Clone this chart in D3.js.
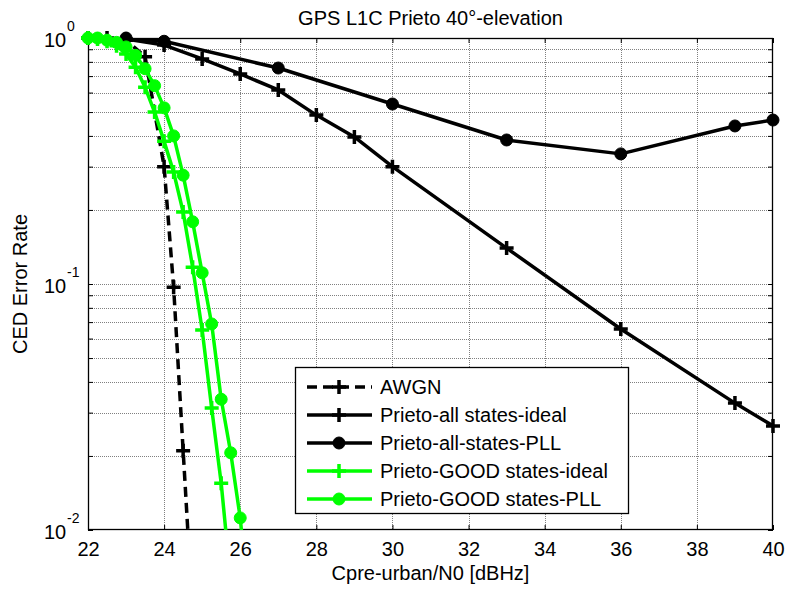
<!DOCTYPE html>
<html><head><meta charset="utf-8">
<script src="https://cdn.jsdelivr.net/npm/d3@7"></script>
<style>
html,body{margin:0;padding:0;background:#fff;}
text{font-family:"Liberation Sans",Arial,sans-serif;fill:#000;}
</style></head>
<body>
<svg id="chart" width="785" height="592"></svg>
<script>
// ---------------- data ----------------
const titleText = "GPS L1C Prieto 40°-elevation";
const xLabelText = "Cpre-urban/N0 [dBHz]";
const yLabelText = "CED Error Rate";
const xTicks = [22, 24, 26, 28, 30, 32, 34, 36, 38, 40];
const yTickExps = [0, -1, -2];

const awgnX = [22, 22.5, 23, 23.5, 24, 24.25, 24.5, 24.75];
const awgnY = [1.0, 1.0, 0.98, 0.84, 0.30, 0.097, 0.021, 0.0046];

const allIdealX = [23, 24, 25, 26, 27, 28, 29, 30, 33, 36, 39, 40];
const allIdealY = [0.99, 0.936, 0.822, 0.714, 0.615, 0.486, 0.396, 0.30, 0.14, 0.0656, 0.0328, 0.0265];

const allPllX = [23, 24, 27, 30, 33, 36, 39, 40];
const allPllY = [1.0, 0.97, 0.755, 0.539, 0.385, 0.338, 0.439, 0.464];

const goodIdealX = [22, 22.25, 22.5, 22.75, 23, 23.25, 23.5, 23.75, 24, 24.25, 24.5, 24.75, 25, 25.25, 25.5, 25.75];
const goodIdealY = [1.0, 0.99, 0.97, 0.93, 0.86, 0.76, 0.63, 0.5, 0.38, 0.285, 0.196, 0.117, 0.065, 0.0313, 0.0155, 0.0062];

const goodPllX = [22, 22.25, 22.5, 22.75, 23, 23.25, 23.5, 23.75, 24, 24.25, 24.5, 24.75, 25, 25.25, 25.5, 25.75, 26, 26.25];
const goodPllY = [1.0, 1.0, 0.98, 0.96, 0.92, 0.85, 0.75, 0.64, 0.52, 0.40, 0.277, 0.179, 0.111, 0.0688, 0.034, 0.0206, 0.0112, 0.0045];

const seriesNames = ["AWGN", "Prieto-all states-ideal", "Prieto-all-states-PLL", "Prieto-GOOD states-ideal", "Prieto-GOOD states-PLL"];
const seriesColors = ["#000000", "#000000", "#000000", "#00ff00", "#00ff00"];
const seriesMarkers = ["plus", "plus", "circle", "plus", "circle"];
const seriesDash = ["10,6", null, null, null, null];

// ---------------- layout ----------------
const L = 88, R = 773, T = 38, B = 530;
const svg = d3.select("#chart");
const x = d3.scaleLinear().domain([22, 40]).range([L, R]);
const y = d3.scaleLog().domain([0.01, 1]).range([B, T]);

const series = [
  {x: awgnX, y: awgnY}, {x: allIdealX, y: allIdealY}, {x: allPllX, y: allPllY},
  {x: goodIdealX, y: goodIdealY}, {x: goodPllX, y: goodPllY}
].map((s, i) => ({
  name: seriesNames[i], color: seriesColors[i], marker: seriesMarkers[i], dash: seriesDash[i],
  pts: s.x.map((v, j) => ({x: v, y: s.y[j]}))
}));

svg.append("rect").attr("x", 0).attr("y", 0).attr("width", 785).attr("height", 592).attr("fill", "#fff");
svg.append("rect").attr("x", L).attr("y", T).attr("width", R - L).attr("height", B - T).attr("fill", "#fff");

// grid
const grid = svg.append("g").attr("stroke", "#808080").attr("stroke-width", 1).attr("stroke-dasharray", "1,1");
xTicks.forEach(t => {
  if (t === 22 || t === 40) return;
  grid.append("line").attr("x1", Math.round(x(t)) + 0.5).attr("x2", Math.round(x(t)) + 0.5).attr("y1", T).attr("y2", B);
});
const minorVals = [];
for (let e = -2; e < 0; e++) for (let m = 1; m <= 9; m++) minorVals.push(m * Math.pow(10, e));
minorVals.forEach(v => {
  if (v === 0.01) return;
  grid.append("line").attr("x1", L).attr("x2", R).attr("y1", Math.round(y(v)) + 0.5).attr("y2", Math.round(y(v)) + 0.5);
});

// axes with D3 (ticks inside)
const xAxisB = d3.axisBottom(x).tickValues(xTicks).tickSize(-5).tickFormat(d3.format("d")).tickPadding(12);
const gxb = svg.append("g").attr("transform", `translate(0,${B})`).call(xAxisB);
gxb.select(".domain").remove();
gxb.selectAll("text").attr("font-size", 20).style("font-family", "Liberation Sans, Arial, sans-serif");
const gxt = svg.append("g").attr("transform", `translate(0,${T})`).call(d3.axisTop(x).tickValues(xTicks).tickSize(-5).tickFormat(""));
gxt.select(".domain").remove();

const yMinorL = d3.axisLeft(y).tickValues(minorVals).tickSize(-5).tickFormat("");
const gyl = svg.append("g").attr("transform", `translate(${L},0)`).call(yMinorL);
gyl.select(".domain").remove();
const gyr = svg.append("g").attr("transform", `translate(${R},0)`).call(d3.axisRight(y).tickValues(minorVals).tickSize(-5).tickFormat(""));
gyr.select(".domain").remove();
svg.selectAll(".tick line").attr("stroke", "#000");

// y tick labels 10^e
yTickExps.forEach(e => {
  const ty = y(Math.pow(10, e));
  svg.append("text").attr("x", 44).attr("y", ty + 9).attr("font-size", 20).text("10");
  svg.append("text").attr("x", 67).attr("y", ty - 7).attr("font-size", 14).text(String(e));
});

// frame
svg.append("rect").attr("x", L + 0.5).attr("y", T + 0.5).attr("width", R - L - 1).attr("height", B - T - 1)
  .attr("fill", "none").attr("stroke", "#000").attr("stroke-width", 1.3);

// clip
svg.append("clipPath").attr("id", "clip").append("rect").attr("x", L).attr("y", T).attr("width", R - L).attr("height", B - T);

const line = d3.line().x(d => x(d.x)).y(d => y(d.y));

function drawMarker(g, type, cx, cy, color) {
  if (type === "plus") {
    g.append("path").attr("d", `M${cx - 7},${cy}H${cx + 7}M${cx},${cy - 7}V${cy + 7}`)
      .attr("stroke", color).attr("stroke-width", 3.5).attr("fill", "none");
  } else {
    g.append("circle").attr("cx", cx).attr("cy", cy).attr("r", 6).attr("fill", color).attr("stroke", color).attr("stroke-width", 1);
  }
}

series.forEach(s => {
  const g = svg.append("g");
  g.append("path").datum(s.pts).attr("d", line).attr("clip-path", "url(#clip)")
    .attr("fill", "none").attr("stroke", s.color).attr("stroke-width", 3.5)
    .attr("stroke-linejoin", "round")
    .attr("stroke-dasharray", s.dash);
  s.pts.filter(p => p.y >= 0.0099 && p.y <= 1.001).forEach(p => drawMarker(g, s.marker, x(p.x), y(p.y), s.color));
});

// legend
const lg = svg.append("g");
lg.append("rect").attr("x", 295.5).attr("y", 367.5).attr("width", 333).attr("height", 146)
  .attr("fill", "#fff").attr("stroke", "#000").attr("stroke-width", 1.3);
series.forEach((s, i) => {
  const ry = 387 + i * 28;
  lg.append("line").attr("x1", 307).attr("x2", 372).attr("y1", ry).attr("y2", ry)
    .attr("stroke", s.color).attr("stroke-width", 3.5).attr("stroke-dasharray", s.dash);
  drawMarker(lg, s.marker, 339, ry, s.color);
  lg.append("text").attr("x", 380).attr("y", ry + 7).attr("font-size", 20).text(s.name);
});

// title & labels
svg.append("text").attr("x", (L + R) / 2).attr("y", 25).attr("text-anchor", "middle").attr("font-size", 20).text(titleText);
svg.append("text").attr("x", (L + R) / 2).attr("y", 580).attr("text-anchor", "middle").attr("font-size", 20).text(xLabelText);
svg.append("text").attr("transform", `translate(27,${(T + B) / 2}) rotate(-90)`).attr("text-anchor", "middle").attr("font-size", 20).text(yLabelText);
</script>
</body></html>
